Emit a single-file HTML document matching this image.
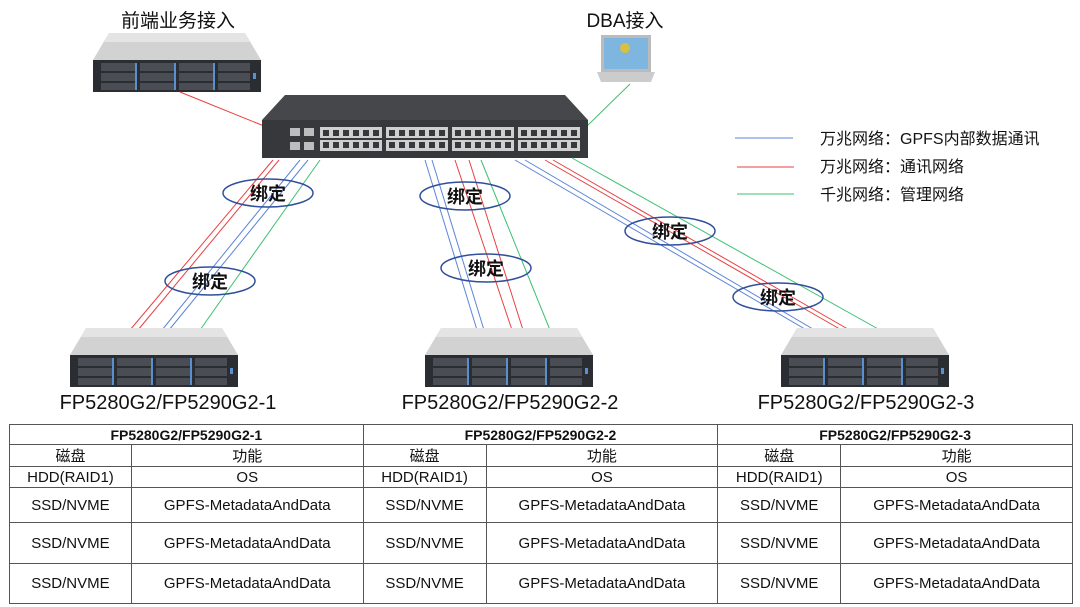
<!DOCTYPE html>
<html><head><meta charset="utf-8"><style>
body{margin:0;width:1080px;height:607px;background:#fff;overflow:hidden;font-family:"Liberation Sans","Noto Sans CJK SC",sans-serif;}
svg{position:absolute;left:0;top:0}
table{position:absolute;left:9px;top:424px;width:1064px;border-collapse:collapse;font-size:15px;font-family:"Liberation Sans","Noto Sans CJK SC",sans-serif;}
td{border:1px solid #555;text-align:center;padding:0;color:#111}
</style></head><body>
<svg width="1080" height="607" viewBox="0 0 1080 607">
<defs>
<g id="srv">
<polygon points="16,0 152,0 168,27 0,27" fill="#d2d2d2"/>
<polygon points="16,0 152,0 157,9 11,9" fill="#e4e4e4"/>
<rect x="0" y="27" width="168" height="32" fill="#2a2d31"/>
<g fill="#4a4e54">
<rect x="8" y="30" width="36" height="8"/><rect x="47" y="30" width="36" height="8"/><rect x="86" y="30" width="36" height="8"/><rect x="125" y="30" width="32" height="8"/>
<rect x="8" y="40" width="36" height="8"/><rect x="47" y="40" width="36" height="8"/><rect x="86" y="40" width="36" height="8"/><rect x="125" y="40" width="32" height="8"/>
<rect x="8" y="50" width="36" height="7"/><rect x="47" y="50" width="36" height="7"/><rect x="86" y="50" width="36" height="7"/><rect x="125" y="50" width="32" height="7"/>
</g>
<g fill="#5b8fd0"><rect x="42" y="30" width="2" height="27"/><rect x="81" y="30" width="2" height="27"/><rect x="120" y="30" width="2" height="27"/><rect x="160" y="40" width="3" height="6"/></g>
</g>
</defs>
<use href="#srv" x="93" y="33"/>
<text x="178" y="27" font-size="19" text-anchor="middle" fill="#111">前端业务接入</text>
<rect x="601" y="35" width="50" height="37" fill="#bbb"/>
<rect x="604" y="38" width="44" height="31" fill="#7fb6e0"/>
<circle cx="625" cy="48" r="5" fill="#d8c040"/>
<polygon points="597,72 655,72 651,82 601,82" fill="#ccc"/>
<text x="625" y="27" font-size="19" text-anchor="middle" fill="#111">DBA接入</text>
<line x1="180" y1="92" x2="264" y2="126" stroke="#e84040" stroke-width="1"/>
<line x1="630" y1="84" x2="585" y2="128" stroke="#3cc070" stroke-width="1"/>
<polygon points="285,95 565,95 588,120 262,120" fill="#45474a"/>
<rect x="262" y="120" width="326" height="38" fill="#37383b"/>
<g fill="#bdbdbd">
<rect x="290" y="128" width="10" height="8"/><rect x="304" y="128" width="10" height="8"/><rect x="290" y="142" width="10" height="8"/><rect x="304" y="142" width="10" height="8"/>
</g>
<g fill="#d0cfcf">
<rect x="320" y="127" width="62" height="24"/><rect x="386" y="127" width="62" height="24"/><rect x="452" y="127" width="62" height="24"/><rect x="518" y="127" width="62" height="24"/>
</g>
<line x1="320" y1="139" x2="580" y2="139" stroke="#37383b" stroke-width="2"/>
<g fill="#37383b">
<rect x="323" y="130" width="6" height="6"/><rect x="333" y="130" width="6" height="6"/><rect x="343" y="130" width="6" height="6"/><rect x="353" y="130" width="6" height="6"/><rect x="363" y="130" width="6" height="6"/><rect x="373" y="130" width="6" height="6"/>
<rect x="389" y="130" width="6" height="6"/><rect x="399" y="130" width="6" height="6"/><rect x="409" y="130" width="6" height="6"/><rect x="419" y="130" width="6" height="6"/><rect x="429" y="130" width="6" height="6"/><rect x="439" y="130" width="6" height="6"/>
<rect x="455" y="130" width="6" height="6"/><rect x="465" y="130" width="6" height="6"/><rect x="475" y="130" width="6" height="6"/><rect x="485" y="130" width="6" height="6"/><rect x="495" y="130" width="6" height="6"/><rect x="505" y="130" width="6" height="6"/>
<rect x="521" y="130" width="6" height="6"/><rect x="531" y="130" width="6" height="6"/><rect x="541" y="130" width="6" height="6"/><rect x="551" y="130" width="6" height="6"/><rect x="561" y="130" width="6" height="6"/><rect x="571" y="130" width="6" height="6"/>
<rect x="323" y="142" width="6" height="6"/><rect x="333" y="142" width="6" height="6"/><rect x="343" y="142" width="6" height="6"/><rect x="353" y="142" width="6" height="6"/><rect x="363" y="142" width="6" height="6"/><rect x="373" y="142" width="6" height="6"/>
<rect x="389" y="142" width="6" height="6"/><rect x="399" y="142" width="6" height="6"/><rect x="409" y="142" width="6" height="6"/><rect x="419" y="142" width="6" height="6"/><rect x="429" y="142" width="6" height="6"/><rect x="439" y="142" width="6" height="6"/>
<rect x="455" y="142" width="6" height="6"/><rect x="465" y="142" width="6" height="6"/><rect x="475" y="142" width="6" height="6"/><rect x="485" y="142" width="6" height="6"/><rect x="495" y="142" width="6" height="6"/><rect x="505" y="142" width="6" height="6"/>
<rect x="521" y="142" width="6" height="6"/><rect x="531" y="142" width="6" height="6"/><rect x="541" y="142" width="6" height="6"/><rect x="551" y="142" width="6" height="6"/><rect x="561" y="142" width="6" height="6"/><rect x="571" y="142" width="6" height="6"/>
</g>
<g stroke-width="1">
<line x1="273" y1="160" x2="130" y2="330" stroke="#e84040"/>
<line x1="279" y1="160" x2="138" y2="330" stroke="#e84040"/>
<line x1="300" y1="160" x2="162" y2="330" stroke="#5b84d8"/>
<line x1="308" y1="160" x2="169" y2="330" stroke="#5b84d8"/>
<line x1="320" y1="160" x2="200" y2="330" stroke="#3cc070"/>
<line x1="425" y1="160" x2="477" y2="330" stroke="#5b84d8"/>
<line x1="432" y1="160" x2="484" y2="330" stroke="#5b84d8"/>
<line x1="455" y1="160" x2="512" y2="330" stroke="#e84040"/>
<line x1="469" y1="160" x2="523" y2="330" stroke="#e84040"/>
<line x1="481" y1="160" x2="550" y2="330" stroke="#3cc070"/>
<line x1="515" y1="160" x2="810" y2="332" stroke="#5b84d8"/>
<line x1="525" y1="160" x2="818" y2="332" stroke="#5b84d8"/>
<line x1="545" y1="160" x2="845" y2="332" stroke="#e84040"/>
<line x1="553" y1="160" x2="853" y2="332" stroke="#e84040"/>
<line x1="572" y1="158" x2="880" y2="330" stroke="#3cc070"/>
</g>
<g fill="none" stroke="#2f4f9a" stroke-width="1.5">
<ellipse cx="268" cy="193" rx="45" ry="14"/>
<ellipse cx="210" cy="281" rx="45" ry="14"/>
<ellipse cx="465" cy="196" rx="45" ry="14"/>
<ellipse cx="486" cy="268" rx="45" ry="14"/>
<ellipse cx="670" cy="231" rx="45" ry="14"/>
<ellipse cx="778" cy="297" rx="45" ry="14"/>
</g>
<g font-size="18" font-weight="bold" text-anchor="middle" fill="#111">
<text x="268" y="200">绑定</text><text x="210" y="288">绑定</text><text x="465" y="203">绑定</text>
<text x="486" y="275">绑定</text><text x="670" y="238">绑定</text><text x="778" y="304">绑定</text>
</g>
<use href="#srv" x="70" y="328"/>
<use href="#srv" x="425" y="328"/>
<use href="#srv" x="781" y="328"/>
<g font-size="20" text-anchor="middle" fill="#111">
<text x="168" y="409">FP5280G2/FP5290G2-1</text>
<text x="510" y="409">FP5280G2/FP5290G2-2</text>
<text x="866" y="409">FP5280G2/FP5290G2-3</text>
</g>
<line x1="735" y1="138" x2="793" y2="138" stroke="#5b84d8"/>
<line x1="737" y1="167" x2="794" y2="167" stroke="#e84040"/>
<line x1="737" y1="194" x2="794" y2="194" stroke="#3cc070"/>
<g font-size="16" fill="#111">
<text x="820" y="144">万兆网络：GPFS内部数据通讯</text>
<text x="820" y="172">万兆网络：通讯网络</text>
<text x="820" y="200">千兆网络：管理网络</text>
</g>
</svg>
<table>
<colgroup><col style="width:122px"><col style="width:232px"><col style="width:123px"><col style="width:232px"><col style="width:123px"><col style="width:232px"></colgroup>
<tr style="height:20px;font-weight:bold;font-size:14px"><td colspan="2">FP5280G2/FP5290G2-1</td><td colspan="2">FP5280G2/FP5290G2-2</td><td colspan="2">FP5280G2/FP5290G2-3</td></tr>
<tr style="height:20px"><td>磁盘</td><td>功能</td><td>磁盘</td><td>功能</td><td>磁盘</td><td>功能</td></tr>
<tr style="height:21px"><td>HDD(RAID1)</td><td>OS</td><td>HDD(RAID1)</td><td>OS</td><td>HDD(RAID1)</td><td>OS</td></tr>
<tr style="height:35px"><td>SSD/NVME</td><td>GPFS-MetadataAndData</td><td>SSD/NVME</td><td>GPFS-MetadataAndData</td><td>SSD/NVME</td><td>GPFS-MetadataAndData</td></tr>
<tr style="height:41px"><td>SSD/NVME</td><td>GPFS-MetadataAndData</td><td>SSD/NVME</td><td>GPFS-MetadataAndData</td><td>SSD/NVME</td><td>GPFS-MetadataAndData</td></tr>
<tr style="height:40px"><td>SSD/NVME</td><td>GPFS-MetadataAndData</td><td>SSD/NVME</td><td>GPFS-MetadataAndData</td><td>SSD/NVME</td><td>GPFS-MetadataAndData</td></tr>
</table>
</body></html>
